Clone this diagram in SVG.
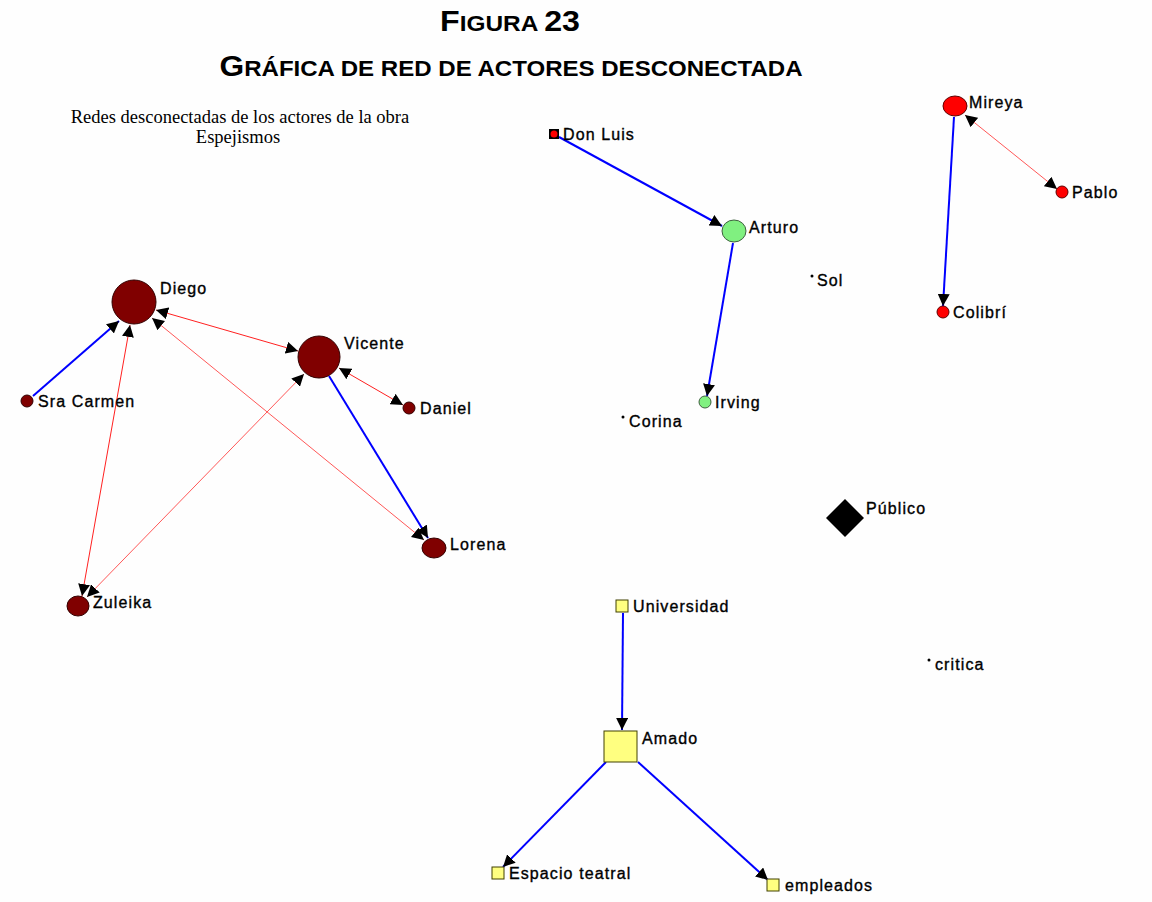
<svg xmlns="http://www.w3.org/2000/svg" width="1152" height="902" viewBox="0 0 1152 902">
<defs>
<style>
.lbl{font-family:"Liberation Sans",Arial,sans-serif;font-size:16px;letter-spacing:1.1px;fill:#000;stroke:#000;stroke-width:0.35px}
.ttl{font-family:"Liberation Sans Narrow","Liberation Sans",Arial,sans-serif;font-weight:bold;fill:#000}
.sub{font-family:"Liberation Serif","Times New Roman",serif;font-size:18.5px;fill:#000}
.blue{stroke:#0000ff;stroke-width:2;fill:none}
.red{stroke:#ff2020;stroke-width:1;fill:none}
.maroon{fill:#800000;stroke:#330000;stroke-width:1}
.green{fill:#80f080;stroke:#406040;stroke-width:1}
.rednode{fill:#ff0000;stroke:#600000;stroke-width:1}
.yellow{fill:#ffff80;stroke:#404000;stroke-width:1}
</style>
<marker id="arr" viewBox="0 0 10 10" refX="10" refY="5" markerWidth="12" markerHeight="12" markerUnits="userSpaceOnUse" orient="auto-start-reverse">
<path d="M0,0 L10,5 L0,10 z" fill="#000"/>
</marker>
</defs>
<rect width="1152" height="902" fill="#fefefe"/>
<g id="title">
<text class="ttl" x="510" y="31" text-anchor="middle" textLength="140" lengthAdjust="spacingAndGlyphs"><tspan font-size="29">F</tspan><tspan font-size="22">IGURA </tspan><tspan font-size="29">23</tspan></text>
<text class="ttl" x="511" y="76" text-anchor="middle" textLength="583" lengthAdjust="spacingAndGlyphs"><tspan font-size="29">G</tspan><tspan font-size="22">RÁFICA DE RED DE ACTORES DESCONECTADA</tspan></text>
</g>
<g id="subtitle">
<text class="sub" x="240" y="123" text-anchor="middle">Redes desconectadas de los actores de la obra</text>
<text class="sub" x="238" y="143" text-anchor="middle">Espejismos</text>
</g>
<g id="connectors">
<path class="blue" d="M33,396 L119,321" marker-end="url(#arr)"/>
<path class="red" d="M130,325 L82,596" marker-start="url(#arr)" marker-end="url(#arr)"/>
<path class="red" d="M156,310 L298,351" marker-start="url(#arr)" marker-end="url(#arr)"/>
<path class="red" stroke-opacity="0.75" d="M152,318 L424,540" marker-start="url(#arr)" marker-end="url(#arr)"/>
<path class="red" stroke-opacity="0.75" d="M87,597 L304,374" marker-start="url(#arr)" marker-end="url(#arr)"/>
<path class="blue" d="M329,376 L428,538" marker-end="url(#arr)"/>
<path class="red" d="M339,368 L403,405" marker-start="url(#arr)" marker-end="url(#arr)"/>
<path class="blue" d="M559,137 L722,226" marker-end="url(#arr)"/>
<path class="blue" d="M733,243 L707,396" marker-end="url(#arr)"/>
<path class="blue" d="M954,117 L943,306" marker-end="url(#arr)"/>
<path class="red" stroke-opacity="0.75" d="M965,115 L1057,189" marker-start="url(#arr)" marker-end="url(#arr)"/>
<path class="blue" d="M623,613 L622,730" marker-end="url(#arr)"/>
<path class="blue" d="M606,762 L503,867" marker-end="url(#arr)"/>
<path class="blue" d="M638,762 L768,880" marker-end="url(#arr)"/>
</g>
<g id="diego"><circle class="maroon" cx="134" cy="302" r="22"/><text class="lbl" x="160" y="294">Diego</text></g>
<g id="vicente"><circle class="maroon" cx="319" cy="357" r="21"/><text class="lbl" x="344" y="349">Vicente</text></g>
<g id="sracarmen"><circle class="maroon" cx="27" cy="401" r="6"/><text class="lbl" x="38" y="407">Sra Carmen</text></g>
<g id="daniel"><circle class="maroon" cx="409" cy="408" r="6"/><text class="lbl" x="420" y="414">Daniel</text></g>
<g id="lorena"><ellipse class="maroon" cx="434" cy="548" rx="12" ry="10"/><text class="lbl" x="450" y="550">Lorena</text></g>
<g id="zuleika"><ellipse class="maroon" cx="78" cy="606" rx="11" ry="10"/><text class="lbl" x="93" y="608">Zuleika</text></g>
<g id="donluis"><rect x="549" y="129" width="10" height="10" fill="#000"/><circle cx="554" cy="134" r="3.5" fill="#ff0000"/><text class="lbl" x="563" y="140">Don Luis</text></g>
<g id="arturo"><ellipse class="green" cx="734" cy="231" rx="12" ry="11"/><text class="lbl" x="749" y="233">Arturo</text></g>
<g id="irving"><circle class="green" cx="705" cy="402" r="6"/><text class="lbl" x="715" y="408">Irving</text></g>
<g id="sol"><circle cx="812" cy="276" r="1.5" fill="#000"/><text class="lbl" x="817" y="286">Sol</text></g>
<g id="corina"><circle cx="623" cy="417" r="1.5" fill="#000"/><text class="lbl" x="629" y="427">Corina</text></g>
<g id="mireya"><ellipse class="rednode" cx="955" cy="106" rx="12" ry="10"/><text class="lbl" x="969" y="108">Mireya</text></g>
<g id="pablo"><circle class="rednode" cx="1062" cy="192" r="6"/><text class="lbl" x="1072" y="198">Pablo</text></g>
<g id="colibri"><circle class="rednode" cx="943" cy="312" r="6"/><text class="lbl" x="953" y="318">Colibrí</text></g>
<g id="publico"><path d="M845,499 L864,518 L845,537 L826,518 z" fill="#000"/><text class="lbl" x="866" y="514">Público</text></g>
<g id="critica"><circle cx="929" cy="660" r="1.5" fill="#000"/><text class="lbl" x="935" y="670">critica</text></g>
<g id="universidad"><rect class="yellow" x="616" y="600" width="12" height="12"/><text class="lbl" x="633" y="612">Universidad</text></g>
<g id="amado"><rect class="yellow" x="604" y="731" width="33" height="31"/><text class="lbl" x="642" y="744">Amado</text></g>
<g id="espacioteatral"><rect class="yellow" x="492" y="867" width="12" height="12"/><text class="lbl" x="509" y="879">Espacio teatral</text></g>
<g id="empleados"><rect class="yellow" x="767" y="879" width="12" height="12"/><text class="lbl" x="785" y="891">empleados</text></g>
</svg>
